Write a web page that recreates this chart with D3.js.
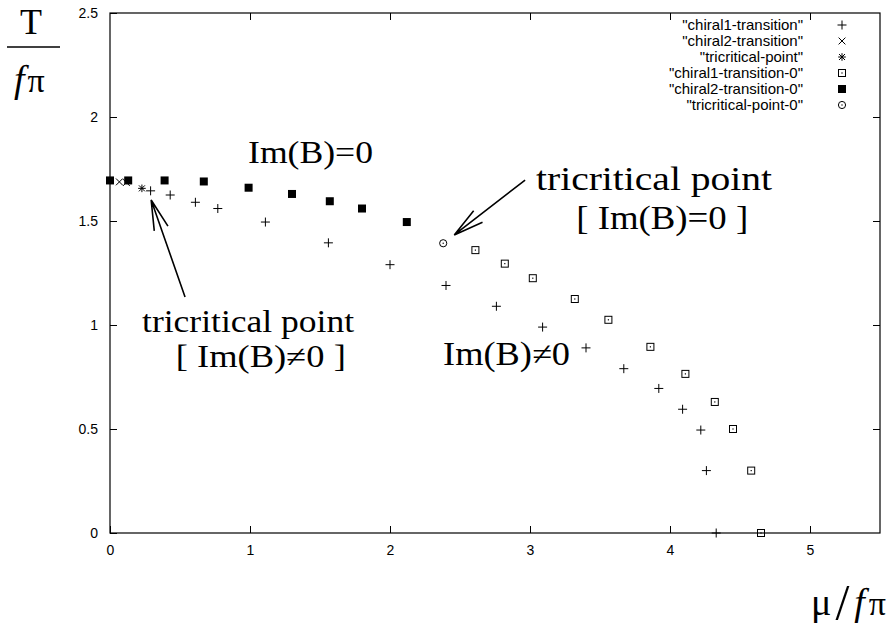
<!DOCTYPE html>
<html>
<head>
<meta charset="utf-8">
<script src="https://cdn.jsdelivr.net/npm/d3@7"></script>
<style>
  body { margin: 0; background: #fff; }
  svg { display: block; }
  .tick-label { font-family: "Liberation Sans", Arial, sans-serif; font-size: 14px; }
  .legend { font-family: "Liberation Sans", Arial, sans-serif; font-size: 15px; }
  .serif { font-family: "Liberation Serif", "Times New Roman", serif; }
</style>
</head>
<body>
<svg id="chart" width="896" height="640"></svg>
<script>
// series values [mu/f_pi, T/f_pi]
const chiral1 = [
  [0.29, 1.645], [0.43, 1.625], [0.61, 1.59], [0.77, 1.56], [1.11, 1.495],
  [1.56, 1.395], [2.0, 1.29], [2.4, 1.19], [2.76, 1.09], [3.09, 0.99],
  [3.4, 0.89], [3.67, 0.79], [3.92, 0.695], [4.09, 0.595], [4.22, 0.495],
  [4.26, 0.3], [4.33, 0]
];
const chiral2 = [[0.067, 1.688], [0.117, 1.685]];
const tricritical = [[0.228, 1.657]];
const chiral1_0 = [
  [2.61, 1.36], [2.82, 1.295], [3.02, 1.225], [3.32, 1.125], [3.56, 1.025],
  [3.86, 0.895], [4.11, 0.765], [4.32, 0.63], [4.45, 0.5], [4.58, 0.3], [4.65, 0]
];
const chiral2_0 = [
  [0, 1.695], [0.13, 1.695], [0.39, 1.695], [0.67, 1.69], [0.99, 1.66],
  [1.30, 1.63], [1.57, 1.595], [1.80, 1.56], [2.12, 1.495]
];
const tricritical_0 = [[2.38, 1.393]];

const xTicks = [0, 1, 2, 3, 4, 5];
const yTicks = [0, 0.5, 1, 1.5, 2, 2.5];

const seriesNames = [
  '"chiral1-transition"', '"chiral2-transition"', '"tricritical-point"',
  '"chiral1-transition-0"', '"chiral2-transition-0"', '"tricritical-point-0"'
];
const seriesData = [chiral1, chiral2, tricritical, chiral1_0, chiral2_0, tricritical_0];
const seriesMarks = ["plus", "cross", "star", "boxDot", "boxFill", "circleDot"];

const svg = d3.select("#chart");
const margin = { top: 13, right: 16, bottom: 107, left: 110 };
const width = 896 - margin.left - margin.right;
const height = 640 - margin.top - margin.bottom;

const x = d3.scaleLinear().domain([0, 5.5]).range([0, width]);
const y = d3.scaleLinear().domain([0, 2.5]).range([height, 0]);

const g = svg.append("g").attr("transform", `translate(${margin.left},${margin.top})`);

// frame
g.append("rect")
  .attr("width", width).attr("height", height)
  .attr("fill", "none").attr("stroke", "#000").attr("stroke-width", 1.2);

// gnuplot style axes: inward ticks, mirrored on the other side
const tickLen = 7;
g.append("g").attr("transform", `translate(0,${height})`)
  .call(d3.axisBottom(x).tickValues(xTicks).tickSize(-tickLen).tickPadding(12).tickFormat(d3.format("d")))
  .call(a => a.select(".domain").remove());
g.append("g")
  .call(d3.axisTop(x).tickValues(xTicks.slice(1)).tickSize(-tickLen).tickFormat(""))
  .call(a => a.select(".domain").remove());
g.append("g")
  .call(d3.axisLeft(y).tickValues(yTicks).tickSize(-tickLen).tickPadding(12).tickFormat(d => d))
  .call(a => a.select(".domain").remove());
g.append("g").attr("transform", `translate(${width},0)`)
  .call(d3.axisRight(y).tickValues(yTicks.slice(1, -1)).tickSize(-tickLen).tickFormat(""))
  .call(a => a.select(".domain").remove());
g.selectAll(".tick line").attr("stroke", "#000");
g.selectAll(".tick text").attr("class", "tick-label").attr("fill", "#000");

// point marks
function drawMark(sel, type) {
  if (type === "plus") {
    sel.append("path").attr("d", "M-4.5,0H4.5M0,-4.5V4.5").attr("stroke", "#000").attr("stroke-width", 1);
  } else if (type === "cross") {
    sel.append("path").attr("d", "M-3.4,-3.4L3.4,3.4M-3.4,3.4L3.4,-3.4").attr("stroke", "#000").attr("stroke-width", 1);
  } else if (type === "star") {
    sel.append("path").attr("d", "M-3.8,0H3.8M0,-3.8V3.8M-3,-3L3,3M-3,3L3,-3").attr("stroke", "#000").attr("stroke-width", 1);
  } else if (type === "boxDot") {
    sel.append("rect").attr("x", -3.5).attr("y", -3.5).attr("width", 7).attr("height", 7)
      .attr("fill", "none").attr("stroke", "#000").attr("stroke-width", 1);
    sel.append("rect").attr("x", -0.6).attr("y", -0.6).attr("width", 1.2).attr("height", 1.2).attr("fill", "#000");
  } else if (type === "boxFill") {
    sel.append("rect").attr("x", -4).attr("y", -4).attr("width", 8).attr("height", 8).attr("fill", "#000");
  } else if (type === "circleDot") {
    sel.append("circle").attr("r", 3.6).attr("fill", "none").attr("stroke", "#000").attr("stroke-width", 1);
    sel.append("circle").attr("r", 0.7).attr("fill", "#000");
  }
}

seriesData.forEach((data, i) => {
  g.append("g").selectAll("g")
    .data(data)
    .join("g")
    .attr("transform", d => `translate(${x(d[0])},${y(d[1])})`)
    .each(function () { drawMark(d3.select(this), seriesMarks[i]); });
});

// legend, top right inside the frame
const legend = g.append("g").attr("transform", `translate(${width - 77},12)`);
seriesNames.forEach((name, i) => {
  const row = legend.append("g").attr("transform", `translate(0,${i * 16})`);
  row.append("text").attr("class", "legend").attr("text-anchor", "end")
    .attr("y", 5).text(name);
  const m = row.append("g").attr("transform", "translate(39,0)");
  drawMark(m, seriesMarks[i]);
});

// annotations (data coordinates)
const labels = [
  { text: "Im(B)=0", at: [0.986, 1.779], size: 32, len: 125 },
  { text: "tricritical point", at: [3.043, 1.649], size: 33, len: 236 },
  { text: "[ Im(B)=0 ]", at: [3.33, 1.462], size: 33, len: 172 },
  { text: "tricritical point", at: [0.229, 0.966], size: 31, len: 212 },
  { text: "[ Im(B)\u22600 ]", at: [0.47, 0.798], size: 31, len: 170 },
  { text: "Im(B)\u22600", at: [2.379, 0.808], size: 33, len: 127 }
];
labels.forEach(l => {
  g.append("text").attr("class", "serif")
    .attr("x", x(l.at[0])).attr("y", y(l.at[1]))
    .attr("font-size", l.size)
    .attr("textLength", l.len).attr("lengthAdjust", "spacingAndGlyphs")
    .text(l.text);
});

const arrows = [
  { from: [2.965, 1.697], to: [2.459, 1.433] },
  { from: [0.536, 1.135], to: [0.294, 1.601] }
];
arrows.forEach(a => {
  const x1 = x(a.from[0]), y1 = y(a.from[1]), x2 = x(a.to[0]), y2 = y(a.to[1]);
  const ang = Math.atan2(y1 - y2, x1 - x2);
  const hl = 31, ha = 13.5 * Math.PI / 180;
  const b1 = [x2 + hl * Math.cos(ang + ha), y2 + hl * Math.sin(ang + ha)];
  const b2 = [x2 + hl * Math.cos(ang - ha), y2 + hl * Math.sin(ang - ha)];
  g.append("path")
    .attr("d", `M${x1},${y1}L${x2},${y2}M${b1[0]},${b1[1]}L${x2},${y2}L${b2[0]},${b2[1]}`)
    .attr("fill", "none").attr("stroke", "#000").attr("stroke-width", 1.6);
});

// y axis label: T over f_pi
const yl = svg.append("g").attr("class", "serif");
yl.append("text").attr("x", 31).attr("y", 34).attr("text-anchor", "middle")
  .attr("font-size", 36).text("T");
yl.append("line").attr("x1", 7).attr("x2", 60).attr("y1", 47).attr("y2", 47)
  .attr("stroke", "#000").attr("stroke-width", 1.6);
const yf = yl.append("text").attr("x", 14).attr("y", 92).attr("font-size", 38);
yf.append("tspan").attr("font-style", "italic").text("f");
yf.append("tspan").attr("font-size", 34).attr("dx", 3).text("\u03c0");

// x axis label: mu / f_pi
const xl = svg.append("text").attr("class", "serif").attr("x", 811).attr("y", 615).attr("font-size", 38);
xl.append("tspan").text("\u03bc");
xl.append("tspan").attr("font-size", 50).attr("dx", 4).attr("dy", 4).text("/");
xl.append("tspan").attr("font-style", "italic").attr("dy", -4).attr("dx", 5).text("f");
xl.append("tspan").attr("font-size", 34).attr("dx", 4).text("\u03c0");
</script>
</body>
</html>
